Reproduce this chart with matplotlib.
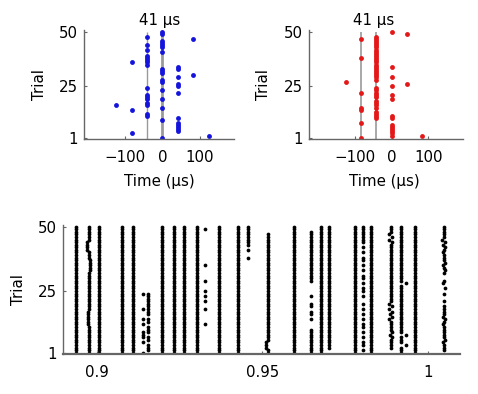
import matplotlib
matplotlib.use("Agg")
import matplotlib.pyplot as plt
import numpy as np

plt.rcParams['font.family'] = ['DejaVu Sans']
FS = 10.8

# ---------------- top panels (times in µs) ----------------
blue_cols = [-123, -82, -41, 0, 41, 82, 123]
blue_trials = [
    [16],
    [36, 14, 3],
    [48, 44, 42, 39, 38, 37, 36, 35, 24, 21, 20, 19, 17, 16, 12, 11],
    [50, 49, 46, 45, 44, 43, 41, 33, 32, 31, 28, 27, 23, 19, 15, 9, 1],
    [34, 33, 29, 26, 25, 22, 10, 8, 7, 6, 5, 4],
    [47, 30],
    [2],
]
blue_lines = [-41, 0]
blue_xlim = [-209, 191]

red_cols = [-123, -82, -41, 0, 41, 82]
red_trials = [
    [27],
    [47, 38, 22, 15, 14, 8, 1],
    [48, 47, 46, 45, 44, 43, 42, 41, 40, 39, 38, 37, 36, 35, 34, 33, 32, 31,
     30, 29, 28, 24, 23, 22, 21, 20, 18, 17, 16, 15, 13, 12, 11, 10],
    [50, 34, 29, 25, 21, 19, 11, 10, 7, 6, 5, 4, 3, 2],
    [49, 26],
    [2],
]
red_lines = [-82, -41]
red_xlim = [-225, 194]

top_title = "41 µs"
top_xticks = [-100, 0, 100]
yticks = [1, 25, 50]

# ---------------- bottom panel (times in s) ----------------
FULL = list(range(1, 51))
raster_times = [0.8937, 0.8977, 0.9007, 0.9075, 0.9110, 0.9139, 0.9154,
                0.9198, 0.9233, 0.9264, 0.9302, 0.9327, 0.9370, 0.9427,
                0.9458, 0.9516, 0.9596, 0.9646, 0.9679, 0.9702, 0.9779,
                0.9803, 0.9828, 0.9888, 0.9920, 0.9935, 0.9963, 1.0049]
raster_trials = [
    FULL, FULL, FULL, FULL, FULL,
    [1, 5, 7, 8, 9, 12, 14, 18, 24],
    [2, 3, 4, 6, 7, 9, 10, 11, 13, 14, 16, 17, 18, 19, 20, 21, 22, 23, 24],
    FULL, FULL, FULL, FULL,
    [49, 35, 29, 25, 23, 21, 18, 12],
    FULL, FULL,
    [50, 49, 48, 47, 46, 45, 44, 43, 41, 38],
    list(range(1, 48)),
    FULL,
    list(range(1, 11)) + [14, 16, 17, 19, 20, 23] + list(range(29, 49)),
    FULL,
    list(range(3, 51)),
    FULL,
    [50, 49, 48, 47, 46, 45, 44, 42, 40, 38, 37, 35, 33, 31, 30, 28, 26,
     25, 23, 20, 18, 16, 14, 12, 11, 9, 7, 5, 4, 2],
    FULL,
    list(range(3, 51)),
    [t for t in FULL if t not in (28, 8, 4)],
    [28, 8, 4],
    FULL,
    [t for t in range(2, 51) if t not in (20, 22, 23, 25, 27, 30, 31)],
]
# small per-trial shifts (s) read from the wiggles of some columns
raster_shift = {
    1: {41: -0.0006, 42: -0.0006, 43: -0.0006, 44: -0.0006,
        33: 0.0004, 34: 0.0004, 35: 0.0004, 36: 0.0004, 37: 0.0004,
        12: -0.0004, 13: -0.0004, 14: -0.0004, 15: -0.0004, 16: -0.0004, 17: -0.0004},
    15: {3: -0.0006, 4: -0.0006, 5: -0.0006},
    23: {47: -0.0005, 46: 0.0005, 45: -0.0004, 44: 0.0004,
         20: -0.0004, 19: 0.0004, 18: -0.0004, 17: 0.0004, 16: -0.0003,
         15: 0.0004, 14: -0.0004, 9: 0.0003, 8: -0.0003, 7: 0.0003},
    27: {45: -0.0005, 44: 0.0004, 43: -0.0004, 42: 0.0004, 40: -0.0003,
         36: 0.0004, 35: -0.0004, 33: 0.0003, 28: -0.0004, 26: 0.0003,
         15: -0.0004, 14: 0.0004, 12: -0.0003, 6: 0.0004, 5: -0.0003},
}
bottom_xticks = [0.9, 0.95, 1.0]
bottom_xticklabels = ["0.9", "0.95", "1"]
bottom_xlim = [0.8899, 1.00975]

W, H = 478, 394
fig = plt.figure(figsize=(W / 100, H / 100), dpi=100)

SPINE = '#666666'


def style(ax, xlw=1.0):
    for s in ['top', 'right']:
        ax.spines[s].set_visible(False)
    ax.spines['left'].set_color(SPINE)
    ax.spines['bottom'].set_color(SPINE)
    ax.spines['left'].set_linewidth(1.0)
    ax.spines['bottom'].set_linewidth(xlw)
    ax.tick_params(direction='in', length=2.5, width=0.8, color=SPINE,
                   labelsize=FS, labelcolor='black')
    ax.tick_params(axis='y', pad=4.5)
    ax.tick_params(axis='x', pad=8)


def top_panel(rect, cols, trials, lines, xlim, color, title_x, xlab_x, ylab_x, lws):
    ax = fig.add_axes(rect)
    for x, lw in zip(lines, lws):
        ax.vlines(x, 0, 50, color='#9a9a9a', lw=lw, zorder=1)
    for x, tr in zip(cols, trials):
        ax.plot([x] * len(tr), tr, 'o', color=color, ms=3.5, mew=0, zorder=2)
    ax.set_xlim(*xlim)
    ax.set_ylim(0.26, 51.07)
    ax.set_xticks(top_xticks)
    ax.set_yticks(yticks)
    style(ax)
    ax.text(title_x, 1.046, top_title, transform=ax.transAxes, ha='center',
            va='baseline', fontsize=FS)
    ax.set_xlabel('Time (µs)', fontsize=FS, va='center')
    ax.xaxis.set_label_coords(xlab_x, -0.385)
    ax.set_ylabel('Trial', fontsize=FS, va='center')
    ax.yaxis.set_label_coords(ylab_x, 0.5)
    return ax


top_panel([84 / W, 1 - 139.3 / H, 150 / W, 109.3 / H], blue_cols, blue_trials,
          blue_lines, blue_xlim, '#1414dc', 0.507, 0.5, -0.30, [1.0, 2.0])
top_panel([309 / W, 1 - 139.3 / H, 153.7 / W, 109.3 / H], red_cols, red_trials,
          red_lines, red_xlim, '#e41818', 0.418, 0.488, -0.293, [1.2, 1.2])

axb = fig.add_axes([63.3 / W, 1 - 354.3 / H, 396.7 / W, 129.3 / H])
for i, (t, tr) in enumerate(zip(raster_times, raster_trials)):
    sh = raster_shift.get(i, {})
    xs = [t + sh.get(k, 0.0) for k in tr]
    axb.plot(xs, tr, 'o', color='black', ms=2.7, mew=0)
axb.set_xlim(*bottom_xlim)
axb.set_ylim(0.38, 50.66)
axb.set_xticks(bottom_xticks)
axb.set_xticklabels(bottom_xticklabels)
axb.set_yticks(yticks)
style(axb, xlw=1.6)
axb.set_ylabel('Trial', fontsize=FS, va='center')
axb.yaxis.set_label_coords(-0.112, 0.5)

fig.savefig('out.png', dpi=100, facecolor='white')
